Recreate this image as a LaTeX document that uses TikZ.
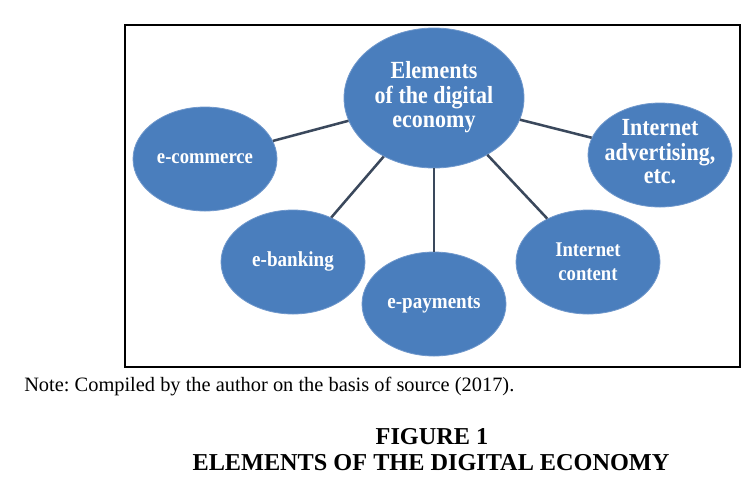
\documentclass[tikz,border=0pt]{standalone}
\usepackage{fontspec}
\setmainfont{Liberation Serif}
\usetikzlibrary{shapes.geometric}
\frenchspacing

\definecolor{bubblefill}{RGB}{74,126,189}
\definecolor{bubbleedge}{RGB}{112,152,204}
\definecolor{linkcolor}{RGB}{58,72,92}

% taller white lettering, as in the scanned figure
\newcommand{\bubbletext}[1]{\scalebox{1}[1.12]{\begin{tabular}{@{}c@{}}#1\end{tabular}}}

\tikzset{
  bubble/.style={ellipse, fill=bubblefill, draw=bubbleedge, line width=0.6pt,
    inner sep=0pt, minimum width=108pt, minimum height=78pt},
  bigbubble/.style={bubble, minimum width=135pt, minimum height=105pt},
  txt/.style={text=white, inner sep=0pt,
    font=\bfseries\fontsize{14pt}{16.1pt}\selectfont},
  bigtxt/.style={txt, font=\bfseries\fontsize{16.5pt}{16.4pt}\selectfont},
  link/.style={-, line width=1.9pt, color=linkcolor}
}

\begin{document}
\begin{tikzpicture}[x=0.75pt, y=-0.75pt]
    \useasboundingbox (0,0) rectangle (753,487);

    \path
    (434, 98) node[bigbubble] (0) {}
    (205,159) node[bubble] (1) {}
    (660,155) node[bubble] (2) {}
    (293,262) node[bubble] (3) {}
    (434,304) node[bubble] (4) {}
    (588,262) node[bubble] (5) {};

    \draw[link] (0) -- (1);
    \draw[link] (0) -- (2);
    \draw[link] (0) -- (3);
    \draw[link] (0) -- (4);
    \draw[link] (0) -- (5);

    \node[bigtxt] (0t) at (0) {\bubbletext{Elements\\of the digital\\economy}};
    \node[txt] (1t) at (1) {\bubbletext{e-commerce}};
    \node[bigtxt, font=\bfseries\fontsize{16.5pt}{15.7pt}\selectfont] (2t) at (2) {\bubbletext{Internet\\advertising,\\etc.}};
    \node[txt, font=\bfseries\fontsize{14.3pt}{16pt}\selectfont] (3t) at (3) {\bubbletext{e-banking}};
    \node[txt, font=\bfseries\fontsize{14.3pt}{16pt}\selectfont] (4t) at (4) {\bubbletext{e-payments}};
    \node[txt] (5t) at ([yshift=-1.5pt]5) {\bubbletext{Internet\\content}};

    \draw[-, line width=2.2pt, color=black]
    (125,25) -- (740,25) -- (740,367) -- (125,367) -- cycle;

    \node[anchor=base west, inner sep=0pt, font=\fontsize{15.3pt}{18pt}\selectfont] (note)
      at (24,391) {Note: Compiled by the author on the basis of source (2017).};
    \node[anchor=base, inner sep=0pt, font=\bfseries\fontsize{18.2pt}{20pt}\selectfont] (fig)
      at (432,444) {FIGURE 1};
    \node[anchor=base, inner sep=0pt, font=\bfseries\fontsize{18.2pt}{20pt}\selectfont] (title)
      at (431,470) {ELEMENTS OF THE DIGITAL ECONOMY};

  \end{tikzpicture}
\end{document}
